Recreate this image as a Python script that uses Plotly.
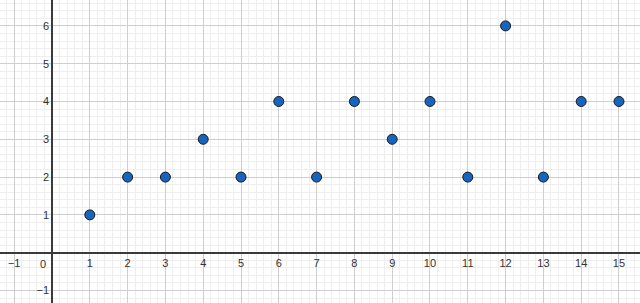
import plotly.graph_objects as go

x_values = [1, 2, 3, 4, 5, 6, 7, 8, 9, 10, 11, 12, 13, 14, 15]
y_values = [1, 2, 2, 3, 2, 4, 2, 4, 3, 4, 2, 6, 2, 4, 4]
x_ticks = [-1, 1, 2, 3, 4, 5, 6, 7, 8, 9, 10, 11, 12, 13, 14, 15]
y_ticks = [-1, 1, 2, 3, 4, 5, 6]

x_range = [-1.376, 15.556]
y_range = [-1.331, 6.685]

def lab(v):
    return "\u2212" + str(-v) if v < 0 else str(v)

xpos = (0 - y_range[0]) / (y_range[1] - y_range[0])
ypos = (0 - x_range[0]) / (x_range[1] - x_range[0])

fig = go.Figure()
fig.add_trace(go.Scatter(
    x=x_values, y=y_values, mode="markers",
    marker=dict(size=10, color="#1565c0", line=dict(color="#1a1a1a", width=1)),
    showlegend=False, hoverinfo="x+y",
))

font = dict(family="Arial, Liberation Sans, sans-serif", size=11, color="#333333")
fig.update_layout(
    width=640, height=303,
    margin=dict(l=0, r=0, t=0, b=0),
    paper_bgcolor="white", plot_bgcolor="white",
    xaxis=dict(
        range=x_range, anchor="free", position=xpos,
        tickmode="array", tickvals=x_ticks, ticktext=[lab(v) for v in x_ticks],
        showgrid=True, gridcolor="#cfcfcf", gridwidth=1,
        minor=dict(dtick=0.2, tick0=0, showgrid=True, gridcolor="#eeeeee", gridwidth=1),
        zeroline=True, zerolinecolor="#3a3a3a", zerolinewidth=1.5,
        showline=False, ticks="", tickfont=font, ticklabelstandoff=2,
        fixedrange=True,
    ),
    yaxis=dict(
        range=y_range, anchor="free", position=ypos,
        tickmode="array", tickvals=y_ticks, ticktext=[lab(v) for v in y_ticks],
        showgrid=True, gridcolor="#cfcfcf", gridwidth=1,
        minor=dict(dtick=0.2, tick0=0, showgrid=True, gridcolor="#eeeeee", gridwidth=1),
        zeroline=True, zerolinecolor="#3a3a3a", zerolinewidth=1.5,
        showline=False, ticks="", tickfont=font, ticklabelstandoff=3,
        fixedrange=True,
    ),
    annotations=[dict(x=0, y=0, xref="x", yref="y", text="0", showarrow=False,
                      font=font, xanchor="right", yanchor="top", xshift=-4, yshift=-3)],
)
fig.add_shape(type="line", xref="x", yref="y", x0=0, x1=0, y0=y_range[0], y1=y_range[1],
              line=dict(color="#3a3a3a", width=1.5), layer="below")
fig.add_shape(type="line", xref="x", yref="y", x0=x_range[0], x1=x_range[1], y0=0, y1=0,
              line=dict(color="#3a3a3a", width=1.5), layer="below")

fig.write_html("out.html")
